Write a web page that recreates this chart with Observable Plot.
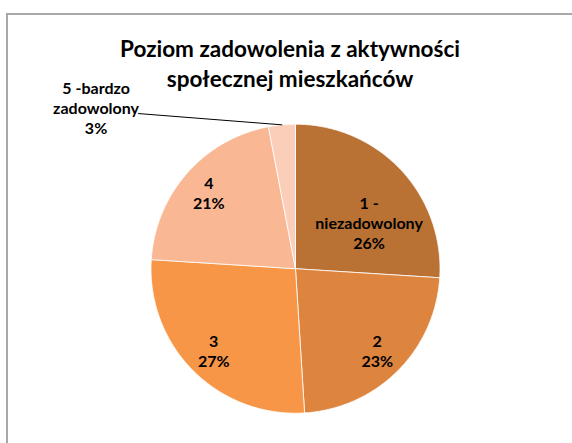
<!DOCTYPE html>
<html><head><meta charset="utf-8">
<script src="https://cdn.jsdelivr.net/npm/d3@7"></script>
<script src="https://cdn.jsdelivr.net/npm/@observablehq/plot@0.6"></script>
<style>
body{margin:0;background:#fff;}
#wrap{position:relative;width:572px;height:443px;overflow:hidden;background:#fff;}
#border{position:absolute;left:6px;top:13px;width:700px;height:600px;border-top:2px solid #a8a8a8;border-left:2px solid #a8a8a8;}
#chart{position:absolute;left:0;top:0;}
</style></head><body>
<div id="wrap"><div id="border"></div><div id="chart"></div></div>
<script>
// ---- data ----
const title = ["Poziom zadowolenia z aktywności", "społecznej mieszkańców"];
const categories = ["1 - niezadowolony", "2", "3", "4", "5 -bardzo zadowolony"];
const labelLines = [["1 -", "niezadowolony"], ["2"], ["3"], ["4"], ["5 -bardzo", "zadowolony"]];
const shares = [26, 23, 27, 21, 3];
const colors = ["#BA7134", "#DD843E", "#F79646", "#F9B794", "#FBCEB9"];

// ---- geometry derived from data ----
const total = d3.sum(shares);
const points = [];
const labels = [];
let cum = 0;
shares.forEach((v, i) => {
  const a0 = cum / total * 2 * Math.PI;
  const a1 = (cum + v) / total * 2 * Math.PI;
  const n = Math.max(2, Math.ceil((a1 - a0) / (Math.PI / 360)));
  points.push({cat: categories[i], x: 0, y: 0});
  for (let k = 0; k <= n; k++) {
    const a = a0 + (a1 - a0) * k / n;
    points.push({cat: categories[i], x: Math.sin(a), y: Math.cos(a)});
  }
  points.push({cat: categories[i], x: 0, y: 0});
  const am = (a0 + a1) / 2;
  labels.push({
    i, cat: categories[i],
    text: labelLines[i].join("\n") + "\n" + v + "%",
    mx: Math.sin(am), my: Math.cos(am)
  });
  cum += v;
});

// layout constants
const R_LABEL = 0.8;
const OUT_LABEL = {dx: -1.286, dy: 0.118};
const OUT_LINE = {dx: -0.9925, dy: 0.078};

const inside = labels.filter(d => d.i >= 1 && d.i <= 3);
const first = labels.filter(d => d.i === 0);
const outside = labels.filter(d => d.i === 4);
const leader = outside.flatMap(d => [
  {x: d.mx + OUT_LINE.dx, y: d.my + OUT_LINE.dy},
  {x: d.mx, y: d.my}
]);

const font = "Lato, 'Open Sans', sans-serif";

const chart = Plot.plot({
  width: 572,
  height: 443,
  marginLeft: 150.5,
  marginRight: 132.5,
  marginTop: 123.7,
  marginBottom: 30.3,
  x: {domain: [-1, 1], axis: null},
  y: {domain: [-1, 1], axis: null},
  color: {domain: categories, range: colors},
  style: {background: "transparent", fontFamily: font, overflow: "visible"},
  marks: [
    Plot.line(points, {x: "x", y: "y", z: "cat", fill: "cat", stroke: "white", strokeWidth: 0.8, curve: "linear"}),
    Plot.text(inside, {x: d => d.mx * R_LABEL, y: d => d.my * R_LABEL, text: "text",
      fontSize: 16, fontWeight: "bold", lineHeight: 1.25, fill: "#000"}),
    Plot.text(first, {x: d => d.mx * R_LABEL, y: d => d.my * R_LABEL, text: "text", dx: -10.7, dy: 33.3,
      fontSize: 16, fontWeight: "bold", lineHeight: 1.25, fill: "#000"}),
    Plot.line(leader, {x: "x", y: "y", stroke: "#000", strokeWidth: 1}),
    Plot.text(outside, {x: d => d.mx + OUT_LABEL.dx, y: d => d.my + OUT_LABEL.dy, text: "text",
      fontSize: 16, fontWeight: "bold", lineHeight: 1.25, fill: "#000"}),
    Plot.text([title.join("\n")], {frameAnchor: "top", lineAnchor: "middle", text: d => d, dx: -5.5, dy: -62.2,
      fontSize: 22.5, fontWeight: "bold", lineHeight: 1.33, fill: "#000"})
  ]
});
document.getElementById("chart").appendChild(chart);
</script>
</body></html>
